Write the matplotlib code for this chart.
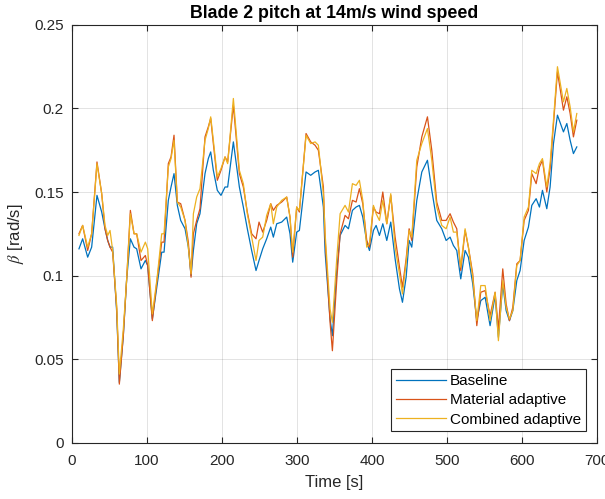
import matplotlib
matplotlib.use('Agg')
import matplotlib.pyplot as plt
from matplotlib.ticker import FuncFormatter

# time samples [s]
time_s = [
    9.3, 14.2, 20.9, 26.2, 33.3, 39.6, 44.0, 47.6, 50.7, 54.2, 59.6, 63.1, 68.4, 72.9,
    77.8, 82.7, 86.2, 92.0, 97.8, 100.9, 107.1, 113.3, 119.6, 122.7, 128.4, 132.0,
    136.0, 140.4, 144.9, 150.7, 155.1, 158.7,
    161.8, 166.2, 170.6, 177.3, 181.7, 184.9, 188.4, 193.7, 198.6, 204.0, 207.5,
    215.1, 223.1, 228.4, 233.7, 239.5, 245.3, 249.3, 254.2, 259.5, 264.9, 268.4,
    272.9, 279.5, 286.2, 290.6, 294.2, 299.5, 303.1, 312.0, 318.2, 324.0, 328.4, 335.1,
    337.4, 344.0, 347.1,
    352.9, 357.4, 364.0, 368.5, 373.8, 378.7, 383.1, 387.6, 392.9, 396.5, 401.8,
    405.4, 409.8, 414.3, 419.6, 424.9, 430.7, 436.5, 440.5, 445.4, 449.4, 452.9,
    459.6, 466.3, 473.8, 479.6, 486.2, 492.9, 498.7,
    504.0, 508.4, 512.9, 518.2, 524.0, 528.4, 534.2, 539.6, 544.9, 550.7, 557.3,
    564.0, 568.4, 574.2, 578.7, 583.1, 587.6, 592.9, 597.3, 602.7, 608.4, 612.9,
    618.7, 623.1, 627.1, 632.9, 637.3, 641.8, 647.1, 655.1, 659.6, 664.0, 668.4, 672.9,
]

baseline = [
    .116, .122, .111, .117, .148, .138, .128, .121, .117, .117, .078, .036, .064, .098,
    .122, .117, .116, .104, .109, .106, .074, .094, .114, .114, .145, .153,
    .161, .142, .133, .128, .117, .100,
    .115, .131, .137, .161, .170, .174, .163, .151, .148, .153, .153,
    .180, .153, .141, .128, .115, .103, .109, .116, .122, .129, .123,
    .131, .132, .135, .125, .108, .126, .127, .162, .160, .162, .163, .141,
    .114, .074, .064,
    .103, .124, .130, .128, .139, .141, .142, .135, .120, .115, .127,
    .130, .124, .131, .121, .132, .110, .092, .084, .099, .121, .117,
    .145, .162, .169, .151, .133, .128, .121,
    .123, .118, .115, .098, .115, .111, .095, .073, .085, .087, .070,
    .088, .063, .095, .079, .073, .079, .097, .103, .121, .129, .142,
    .146, .141, .151, .140, .153, .179, .196, .186, .191, .181, .173, .177,
]

material = [
    .125, .130, .115, .125, .168, .149, .128, .121, .117, .114, .080, .035, .064, .098,
    .139, .125, .125, .109, .112, .106, .073, .097, .120, .120, .167, .171,
    .184, .144, .143, .133, .120, .099,
    .125, .133, .140, .183, .189, .194, .179, .157, .163, .171, .168,
    .202, .161, .153, .138, .125, .122, .132, .126, .133, .143, .139,
    .142, .144, .147, .135, .111, .141, .138, .185, .180, .178, .175, .153,
    .122, .072, .055,
    .097, .125, .136, .134, .145, .144, .152, .143, .121, .117, .141,
    .138, .137, .150, .131, .148, .123, .105, .093, .110, .128, .121,
    .165, .183, .195, .175, .144, .133, .133,
    .137, .132, .128, .103, .127, .117, .101, .070, .090, .091, .076,
    .090, .068, .104, .083, .073, .081, .107, .109, .133, .139, .161,
    .155, .165, .169, .150, .164, .191, .222, .199, .207, .197, .183, .193,
]

combined = [
    .124, .130, .117, .125, .167, .149, .130, .124, .127, .115, .082, .041, .068, .098,
    .137, .125, .125, .114, .120, .116, .077, .098, .125, .125, .165, .170,
    .181, .144, .141, .133, .117, .101,
    .137, .147, .152, .181, .188, .195, .181, .159, .164, .171, .167,
    .206, .163, .155, .137, .123, .109, .121, .123, .136, .143, .131,
    .141, .145, .147, .135, .114, .141, .139, .184, .179, .180, .178, .149,
    .125, .080, .072,
    .110, .137, .142, .138, .155, .154, .157, .145, .117, .119, .142,
    .137, .133, .145, .131, .149, .117, .101, .089, .108, .127, .123,
    .169, .179, .188, .169, .141, .130, .128,
    .135, .126, .126, .105, .128, .117, .099, .073, .094, .094, .073,
    .090, .061, .097, .081, .074, .079, .106, .109, .135, .141, .163,
    .161, .167, .170, .153, .167, .193, .225, .204, .212, .201, .186, .197,
]

series_names = ['Baseline', 'Material adaptive', 'Combined adaptive']
series_colors = ['#0072BD', '#D95319', '#EDB120']

plt.rcParams['font.family'] = ['Liberation Sans', 'DejaVu Sans']
plt.rcParams['mathtext.fontset'] = 'stix'

fig = plt.figure(figsize=(6.05, 4.99), dpi=100)
ax = fig.add_axes([0.119, 0.113, 0.868, 0.837])

for values, name, color in zip([baseline, material, combined], series_names, series_colors):
    ax.plot(time_s, values, color=color, linewidth=0.9, label=name)

ax.set_xlim(0, 700)
ax.set_ylim(0, 0.25)
ax.set_xticks(range(0, 701, 100))
ax.set_yticks([0, 0.05, 0.1, 0.15, 0.2, 0.25])
ax.yaxis.set_major_formatter(FuncFormatter(lambda v, p: '%g' % round(v, 3)))

ax.grid(True, color='#262626', alpha=0.13, linewidth=0.7)
ax.tick_params(direction='in', top=True, right=True, labelsize=11, colors='#262626', length=4)
ax.tick_params(axis='x', pad=8)
ax.tick_params(axis='y', pad=6)
for s in ax.spines.values():
    s.set_color('#262626')
    s.set_linewidth(0.8)

ax.set_title('Blade 2 pitch at 14m/s wind speed', fontsize=12.8, fontweight='bold', pad=5)
ax.set_xlabel('Time [s]', fontsize=12, color='#262626', labelpad=5)
ax.set_ylabel(r'$\beta$ [rad/s]', fontsize=12, color='#262626', labelpad=6)

leg = ax.legend(loc='lower right', fontsize=11, fancybox=False, framealpha=1,
                edgecolor='#262626', borderaxespad=0.75, handlelength=3.3,
                handletextpad=0.25, borderpad=0.3, labelspacing=0.35)
leg.get_frame().set_linewidth(0.8)

fig.savefig('out.png', dpi=100)
